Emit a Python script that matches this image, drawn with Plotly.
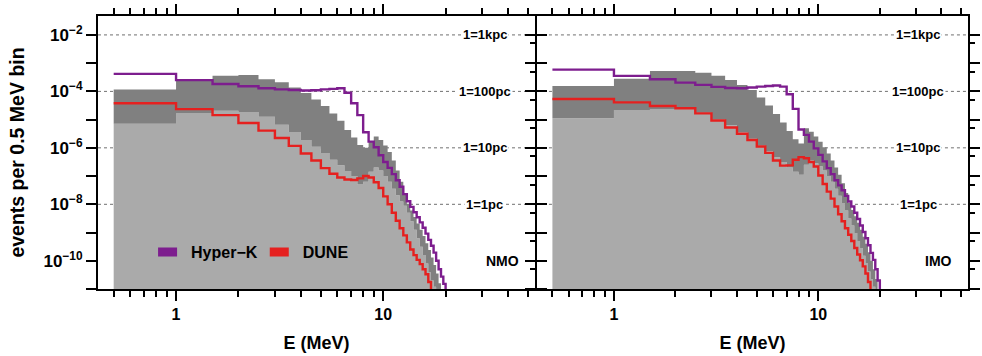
import math
import plotly.graph_objects as go

# Energy bin edges (MeV), 0.5 MeV wide bins
E_EDGES = [0.5, 1.0, 1.5, 2.0, 2.5, 3.0, 3.5, 4.0, 4.5, 5.0,
           5.5, 6.0, 6.5, 7.0, 7.5, 8.0, 8.5, 9.0, 9.5, 10.0,
           10.5, 11.0, 11.5, 12.0, 12.5, 13.0, 13.5, 14.0, 14.5, 15.0,
           15.5, 16.0, 16.5, 17.0, 17.5, 18.0, 18.5, 19.0, 19.5, 20.0]

# log10(events per 0.5 MeV bin), one value per bin; -12 = below the plotted range
# --- normal mass ordering ---
HK_NMO = [-3.38, -3.60, -3.74, -3.82, -3.89, -3.93, -3.95, -3.97, -3.96, -3.93,
          -3.91, -3.89, -4.05, -4.42, -4.84, -5.45, -5.78, -5.98, -6.26, -6.50,
          -6.71, -6.93, -7.15, -7.38, -7.64, -7.89, -8.09, -8.28, -8.46, -8.64,
          -8.83, -9.04, -9.26, -9.47, -9.71, -10.00, -10.30, -10.56, -10.82]
DUNE_NMO = [-4.42, -4.63, -4.84, -5.12, -5.39, -5.65, -5.93, -6.20, -6.45, -6.72,
            -6.92, -7.05, -7.12, -7.14, -7.08, -7.00, -7.05, -7.22, -7.42, -7.72,
            -8.00, -8.30, -8.58, -8.85, -9.10, -9.35, -9.60, -9.80, -9.97, -10.12,
            -10.30, -10.48, -10.75, -12, -12, -12, -12, -12, -12]
BAND_HI_NMO = [-3.93, -3.62, -3.45, -3.42, -3.57, -3.68, -3.86, -4.06, -4.29, -4.52,
               -4.78, -5.04, -5.37, -5.63, -5.90, -6.00, -5.78, -5.60, -5.72, -5.92,
               -6.15, -6.45, -6.80, -7.20, -7.60, -7.98, -8.22, -8.45, -8.68, -8.90,
               -9.12, -9.38, -9.62, -9.88, -10.15, -10.45, -10.80, -12, -12]
BAND_LO_NMO = [-5.15, -4.78, -4.69, -4.73, -4.90, -5.18, -5.44, -5.72, -5.96, -6.18,
               -6.42, -6.62, -6.82, -7.00, -7.30, -7.20, -6.85, -6.70, -6.80, -7.00,
               -7.20, -7.45, -7.68, -7.90, -8.05, -8.30, -8.60, -8.90, -9.20, -9.50,
               -9.80, -10.10, -10.40, -10.70, -10.92, -12, -12, -12, -12]
# --- inverted mass ordering ---
HK_IMO = [-3.23, -3.45, -3.57, -3.69, -3.77, -3.84, -3.88, -3.89, -3.86, -3.83,
          -3.81, -3.79, -3.83, -4.10, -4.62, -5.35, -5.54, -5.78, -6.02, -6.25,
          -6.48, -6.72, -6.93, -7.15, -7.33, -7.50, -7.70, -7.90, -8.08, -8.30,
          -8.52, -8.75, -8.98, -9.20, -9.45, -9.72, -9.97, -10.30, -10.70]
DUNE_IMO = [-4.27, -4.39, -4.52, -4.60, -4.78, -5.03, -5.28, -5.50, -5.72, -5.95,
            -6.18, -6.45, -6.63, -6.62, -6.42, -6.33, -6.37, -6.50, -6.66, -6.98,
            -7.28, -7.55, -7.80, -8.08, -8.35, -8.60, -8.85, -9.08, -9.30, -9.55,
            -9.78, -9.98, -10.20, -10.45, -10.75, -12, -12, -12, -12]
BAND_HI_IMO = [-3.81, -3.55, -3.28, -3.28, -3.34, -3.45, -3.60, -3.77, -3.95, -4.22,
               -4.50, -4.80, -5.10, -5.40, -5.70, -5.85, -5.31, -5.43, -5.60, -5.78,
               -5.98, -6.20, -6.45, -6.70, -6.95, -7.25, -7.60, -7.95, -8.20, -8.42,
               -8.65, -8.90, -9.15, -9.40, -9.70, -10.00, -10.30, -10.65, -12]
BAND_LO_IMO = [-4.95, -4.66, -4.62, -4.64, -4.76, -4.98, -5.20, -5.45, -5.68, -5.90,
               -6.12, -6.33, -6.50, -6.70, -6.85, -6.95, -6.60, -6.45, -6.55, -6.65,
               -6.80, -7.00, -7.20, -7.45, -7.70, -7.95, -8.22, -8.50, -8.75, -9.02,
               -9.30, -9.55, -9.82, -10.10, -10.38, -10.65, -10.92, -12, -12]

# Distance reference levels and their labels
DIST_LEVELS = [1e-2, 1e-4, 1e-6, 1e-8]
DIST_LABELS = ["1=1kpc", "1=100pc", "1=10pc", "1=1pc"]
PANEL_TAGS = ["NMO", "IMO"]

# Axis ticks
X_MAJOR = [1, 10]
X_MAJOR_TEXT = ["1", "10"]
X_MINOR = [0.5, 0.6, 0.7, 0.8, 0.9, 2, 3, 4, 5, 6, 7, 8, 9, 20, 30, 40, 50]
Y_DECADES = [1e-11, 1e-10, 1e-9, 1e-8, 1e-7, 1e-6, 1e-5, 1e-4, 1e-3, 1e-2]
Y_LABELLED = [1e-10, 1e-8, 1e-6, 1e-4, 1e-2]
Y_LABEL_TEXT = ["10<sup>\u221210</sup>", "10<sup>\u22128</sup>", "10<sup>\u22126</sup>",
                "10<sup>\u22124</sup>", "10<sup>\u22122</sup>"]
Y_UNLABELLED = [1e-11, 1e-9, 1e-7, 1e-5, 1e-3]
Y_HALF = [5e-12, 5e-11, 5e-10, 5e-9, 5e-8, 5e-7, 5e-6, 5e-5, 5e-4, 5e-3]

X_RANGE = [math.log10(0.42), math.log10(54)]
Y_RANGE = [-11, -1.33]
FLOOR = 1e-12

PURPLE = "#7d1d8e"
RED = "#e5201f"
DARK_GRAY = "#808080"
LIGHT_GRAY = "#aaaaaa"
FONT = "Liberation Sans, Arial, Helvetica, sans-serif"


def step_values(logs):
    return [10 ** v for v in logs] + [FLOOR]


panels = [
    ("x", "y", HK_NMO, DUNE_NMO, BAND_HI_NMO, BAND_LO_NMO),
    ("x2", "y2", HK_IMO, DUNE_IMO, BAND_HI_IMO, BAND_LO_IMO),
]

fig = go.Figure()
for xa, ya, hk, dune, hi, lo in panels:
    common = dict(xaxis=xa, yaxis=ya, showlegend=False, hoverinfo="skip")
    # floor that the lower band fills down to
    fig.add_trace(go.Scatter(x=[E_EDGES[0], E_EDGES[-1]], y=[FLOOR, FLOOR], mode="lines",
                             line=dict(width=0), **common))
    fig.add_trace(go.Scatter(x=E_EDGES, y=step_values(lo), mode="lines", line_shape="hv",
                             line=dict(width=0), fill="tonexty", fillcolor=LIGHT_GRAY, **common))
    fig.add_trace(go.Scatter(x=E_EDGES, y=step_values(hi), mode="lines", line_shape="hv",
                             line=dict(width=0), fill="tonexty", fillcolor=DARK_GRAY, **common))
    fig.add_trace(go.Scatter(x=E_EDGES, y=step_values(dune), mode="lines", line_shape="hv",
                             line=dict(color=RED, width=2.4), **common))
    fig.add_trace(go.Scatter(x=E_EDGES, y=step_values(hk), mode="lines", line_shape="hv",
                             line=dict(color=PURPLE, width=2.4), **common))

# legend swatches
for name, color in [("Hyper\u2212K", PURPLE), ("DUNE", RED)]:
    fig.add_trace(go.Scatter(x=[None], y=[None], mode="lines", name=name,
                             line=dict(color=color, width=9, dash="0px,2px,19px,100px"),
                             xaxis="x", yaxis="y"))

tick_font = dict(family=FONT, size=16, color="black", weight="bold")
ytick_font = dict(family=FONT, size=17, color="black", weight="bold")
title_font = dict(family=FONT, size=18, color="black", weight="bold")
ytitle_font = dict(family=FONT, size=19.5, color="black", weight="bold")
LINE_W = 2


def x_axis(domain, side_ticks, overlay=None, anchor="y"):
    ax = dict(type="log", range=X_RANGE, showgrid=False, zeroline=False,
              ticks=side_ticks, ticklen=10, tickwidth=2, tickcolor="black",
              tickmode="array", tickvals=X_MAJOR, ticktext=X_MAJOR_TEXT,
              minor=dict(tickmode="array", tickvals=X_MINOR, ticks=side_ticks,
                         ticklen=6, tickwidth=1.5, tickcolor="black", showgrid=False),
              mirror="ticks", anchor=anchor, fixedrange=True)
    if overlay:
        ax.update(overlaying=overlay, showline=False, showticklabels=False)
    else:
        ax.update(domain=domain, showline=True, linewidth=LINE_W, linecolor="black",
                  showticklabels=True, tickfont=tick_font,
                  title=dict(text="E (MeV)", font=title_font, standoff=14))
    return ax


def y_ticks(side, major, minor, major_len, minor_len):
    ax = dict(type="log", range=Y_RANGE, showgrid=False, zeroline=False,
              ticks=side, ticklen=major_len, tickwidth=2, tickcolor="black",
              tickmode="array", tickvals=major, mirror="ticks", fixedrange=True,
              showticklabels=False)
    if minor:
        ax["minor"] = dict(tickmode="array", tickvals=minor, ticks=side, ticklen=minor_len,
                           tickwidth=2 if minor_len == major_len else 1.5,
                           tickcolor="black", showgrid=False)
    return ax


split = 443 / 882
right_start = split + LINE_W / 882

layout_axes = dict(
    xaxis=x_axis([0, split], "outside"),
    xaxis2=x_axis([right_start, 1], "outside", anchor="y2"),
    xaxis3=x_axis(None, "inside", overlay="x", anchor="y"),
    xaxis4=x_axis(None, "inside", overlay="x2", anchor="y2"),
)

# left panel: labelled even decades + odd decades (outside), all decades + halves (inside),
# halves (outside)
y_main = y_ticks("outside", Y_LABELLED, Y_UNLABELLED, 10, 10)
y_main.update(anchor="x", domain=[0, 1], showline=True, linewidth=LINE_W, linecolor="black",
              showticklabels=True, ticktext=Y_LABEL_TEXT, tickfont=ytick_font,
              ticklabelstandoff=0,
              title=dict(text="events per 0.5 MeV bin", font=ytitle_font, standoff=14))
layout_axes["yaxis"] = y_main
y_in = y_ticks("inside", Y_DECADES, Y_HALF, 10, 5)
y_in.update(anchor="x", overlaying="y")
layout_axes["yaxis3"] = y_in
y_half = y_ticks("outside", Y_HALF, None, 5, 5)
y_half.update(anchor="x", overlaying="y")
layout_axes["yaxis5"] = y_half

# right panel: no labels
y2_main = y_ticks("outside", Y_DECADES, Y_HALF, 10, 5)
y2_main.update(anchor="x2", domain=[0, 1], showline=True, linewidth=LINE_W, linecolor="black")
layout_axes["yaxis2"] = y2_main
y2_in = y_ticks("inside", Y_DECADES, Y_HALF, 10, 5)
y2_in.update(anchor="x2", overlaying="y2")
layout_axes["yaxis4"] = y2_in

fig.update_layout(
    width=982, height=356,
    margin=dict(l=98, r=2, t=16, b=67),
    paper_bgcolor="white", plot_bgcolor="white",
    font=dict(family=FONT, color="black"),
    legend=dict(orientation="h", x=0.061, y=0.1355, xanchor="left", yanchor="middle",
                traceorder="normal", bgcolor="rgba(0,0,0,0)",
                font=dict(family=FONT, size=16, color="black", weight="bold"),
                itemclick=False, itemdoubleclick=False),
    **layout_axes,
)

shapes = []
annotations = []
for (xa, ya, *_), tag in zip(panels, PANEL_TAGS):
    for level, label in zip(DIST_LEVELS, DIST_LABELS):
        shapes.append(dict(type="line", xref=f"{xa} domain", yref=ya, x0=0, x1=1,
                           y0=level, y1=level, layer="below",
                           line=dict(color="#707070", width=1, dash="dot")))
        annotations.append(dict(xref=f"{xa} domain", yref=ya, x=0.885, y=math.log10(level),
                                text=f"<b>{label}</b>", showarrow=False,
                                xanchor="center", yanchor="middle",
                                bgcolor="white", borderpad=1,
                                font=dict(family=FONT, size=13, color="black")))
    annotations.append(dict(xref=f"{xa} domain", yref=ya, x=0.968, y=-10, text=f"<b>{tag}</b>",
                            showarrow=False, xanchor="right", yanchor="middle",
                            font=dict(family=FONT, size=14, color="black")))
fig.update_layout(shapes=shapes, annotations=annotations)

fig.write_html("out.html")
